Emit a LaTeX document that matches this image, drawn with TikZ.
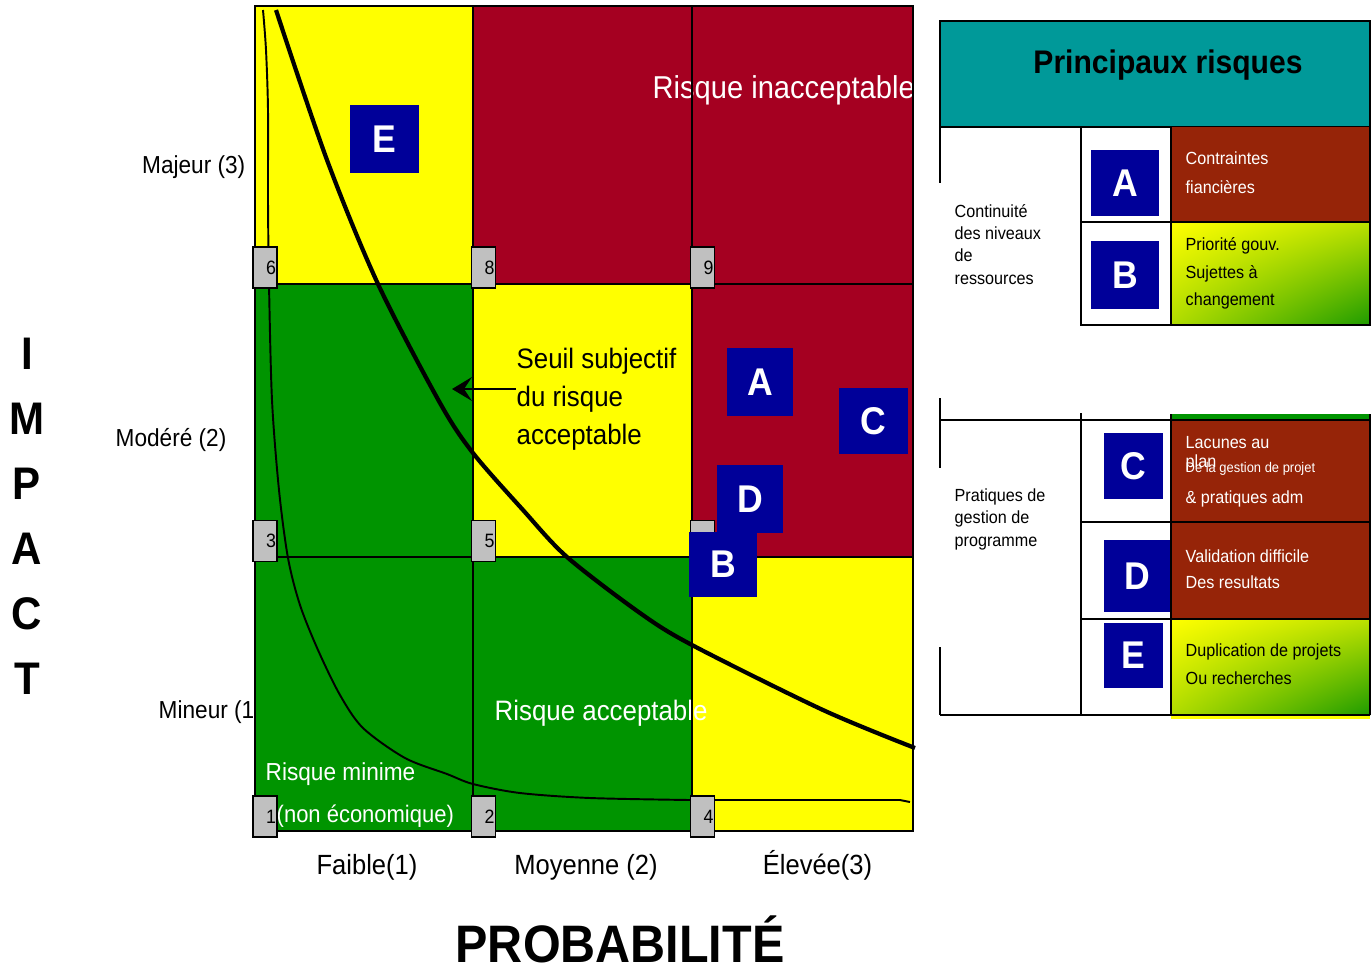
\documentclass[tikz,border=0pt]{standalone}
\usepackage{fontspec}
\setmainfont{Liberation Sans}[FakeStretch=0.92]
\usetikzlibrary{arrows.meta,positioning,shadings}

\definecolor{riskred}{HTML}{A50021}
\definecolor{riskgreen}{HTML}{009400}
\definecolor{riskyellow}{HTML}{FFFF00}
\definecolor{riskblue}{HTML}{000099}
\definecolor{numgray}{HTML}{C0C0C0}
\definecolor{cellbrown}{HTML}{962408}
\definecolor{headteal}{HTML}{009999}
\definecolor{gradgreen}{HTML}{1E9B00}

\begin{document}
\begin{tikzpicture}[x=0.1mm, y=-0.1mm,
  numbox/.style={draw, fill=numgray, line width=0.4pt, text width=2.2mm, align=right,
    inner sep=0.1mm, minimum height=4.1mm, font=\fontsize{5.5pt}{6pt}\selectfont},
  letterbox/.style={fill=riskblue, text=white, inner sep=0, font=\bfseries\fontsize{11pt}{12pt}\selectfont},
  scalelabel/.style={inner sep=0, font=\fontsize{7pt}{8pt}\selectfont},
  problabel/.style={inner sep=0, font=\fontsize{7.9pt}{9pt}\selectfont},
  impactletter/.style={inner sep=0, font=\bfseries\fontsize{13pt}{14pt}\selectfont},
  zonelabel/.style={inner sep=0, text=white, anchor=base west},
  celltext/.style={inner sep=0, align=left, anchor=north west},
  gridline/.style={line width=0.55pt},
  tabline/.style={line width=0.7pt},
  halfshade/.style={upper left=riskyellow, lower right=gradgreen,
    upper right=riskyellow!70!gradgreen, lower left=riskyellow!65!gradgreen}]

\useasboundingbox (0,0) rectangle (1372,971);

% Impact scale (the matrix covers the end of the last one)
\node[scalelabel, anchor=base east] (majeur) at (246,173) {Majeur (3)};
\node[scalelabel, anchor=base west] (modere) at (115,446) {Modéré (2)};
\node[scalelabel, anchor=base west] (mineur) at (158,718) {Mineur (1)};

% Matrix cells
\fill[riskyellow] (255,6) rectangle (473,284);
\fill[riskred] (473,6) rectangle (913,284);
\fill[riskgreen] (255,284) rectangle (473,831);
\fill[riskyellow] (473,284) rectangle (692,557);
\fill[riskred] (692,284) rectangle (913,557);
\fill[riskgreen] (473,557) rectangle (692,831);
\fill[riskyellow] (692,557) rectangle (913,831);

% Zone labels
\node[zonelabel, font=\fontsize{9pt}{10pt}\selectfont] (inacceptable) at (652,98) {Risque inacceptable};
\node[zonelabel, font=\fontsize{8pt}{9pt}\selectfont] (acceptable) at (494,720) {Risque acceptable};
\node[zonelabel, font=\fontsize{7pt}{8pt}\selectfont] (minime) at (265,780) {Risque minime};
\node[zonelabel, font=\fontsize{6.8pt}{8pt}\selectfont] (noneco) at (276,822) {(non économique)};

% Grid
\draw[gridline] (473,6) -- (473,831) (692,6) -- (692,831)
  (255,284) -- (913,284) (255,557) -- (913,557);
\draw[gridline] (255,6) rectangle (913,831);

% Minimum risk curve
\draw[line width=0.55pt] plot[smooth, tension=0.5] coordinates {(263,10) (266,50) (268,110) (268,200)
  (269,284) (272,400) (279,490) (288,558) (300,605) (318,650) (340,695) (363,728) (405,758)
  (447,774) (473,784) (520,793) (590,798) (690,800)} -- (900,800) -- (910,802);

% Acceptable risk threshold
\draw[line width=1.2pt] plot[smooth] coordinates {(276,10) (327,160) (378,284) (440,403) (473,453)
  (523,510) (567,557) (640,613) (692,645) (823,710) (915,748)};

% Corner numbers
\node[numbox] (n6) at (265,267.5) {6};
\node[numbox] (n8) at (483.5,267.5) {8};
\node[numbox] (n9) at (702.5,267.5) {9};
\node[numbox] (n3) at (265,541) {3};
\node[numbox] (n5) at (483.5,541) {5};
\node[numbox] (n7) at (702.5,541) {};
\node[numbox] (n1) at (265,816.5) {1};
\node[numbox] (n2) at (483.5,816.5) {2};
\node[numbox] (n4) at (702.5,816.5) {4};

% Risks in the matrix
\node[letterbox, minimum width=6.9mm, minimum height=6.8mm] (riskE) at (384.5,139) {E};
\node[letterbox, minimum width=6.6mm, minimum height=6.8mm] (riskA) at (760,382) {A};
\node[letterbox, minimum width=6.9mm, minimum height=6.6mm] (riskC) at (873.5,421) {C};
\node[letterbox, minimum width=6.6mm, minimum height=6.8mm] (riskD) at (750,499) {D};
\node[letterbox, minimum width=6.8mm, minimum height=6.5mm] (riskB) at (723,564.5) {B};

% Threshold label
\node[celltext, font=\fontsize{8pt}{10.8pt}\selectfont] (seuil) at (516,347) {Seuil subjectif\\du risque\\acceptable};
\coordinate (seuiltip) at (452,389);
\draw[line width=0.45pt, -{Stealth[length=2mm, width=2.4mm, inset=0.8mm]}] (seuil.west |- seuiltip) -- (seuiltip);

% Probability scale
\node[problabel, anchor=base] (faible) at (367,874) {Faible(1)};
\node[problabel, anchor=base] (moyenne) at (586,874) {Moyenne (2)};
\node[problabel, anchor=base] (elevee) at (817.5,874) {Élevée(3)};
\node[inner sep=0, anchor=base, font=\bfseries\fontsize{15pt}{16pt}\selectfont] (probabilite) at (620,962) {PROBABILITÉ};

% Impact axis
\foreach \letter [count=\i from 0] in {I,M,P,A,C,T}
  \node[impactletter] (impact\i) at (27,354+65*\i) {\letter};

% Principal risks panel
\draw[tabline, fill=headteal] (940,21) rectangle (1370,127);
\node[inner sep=0, anchor=base, font=\bfseries\fontsize{9.3pt}{10pt}\selectfont] (title) at (1168,73) {Principaux risques};

\fill[cellbrown] (1171,127) rectangle (1370,222);
\shade[halfshade] (1171,222) rectangle (1370,325);
\fill[riskgreen] (1171,414) rectangle (1370,420);
\fill[cellbrown] (1171,420) rectangle (1370,619);
\shade[halfshade] (1171,619) rectangle (1370,715);
\fill[riskyellow] (1171,715) rectangle (1370,719);

\node[letterbox, minimum width=6.8mm, minimum height=6.6mm] (listA) at (1125,183) {A};
\node[letterbox, minimum width=6.8mm, minimum height=6.8mm] (listB) at (1125,275) {B};
\node[letterbox, minimum width=5.9mm, minimum height=6.6mm] (listC) at (1133.5,466) {C};
\node[letterbox, minimum width=6.7mm, minimum height=7.2mm] (listD) at (1137.5,576) {D};
\node[letterbox, minimum width=5.9mm, minimum height=6.5mm] (listE) at (1133.5,655.5) {E};

% Table rules
\draw[tabline] (940,127) -- (940,183);
\draw[tabline] (1081,127) -- (1081,325) -- (1370,325) -- (1370,127);
\draw[tabline] (1171,127) -- (1171,325) (1081,222) -- (1370,222);
\draw[tabline] (940,398) -- (940,468) (940,647) -- (940,715);
\draw[tabline] (940,420) -- (1370,420) (940,715) -- (1370,715);
\draw[tabline] (1081,413) -- (1081,715) (1171,414) -- (1171,715) (1370,414) -- (1370,715);
\draw[tabline] (1081,522) -- (1370,522) (1081,619) -- (1370,619);

% Risk families
\node[celltext, font=\fontsize{5pt}{6.3pt}\selectfont] (continuite) at (954,204) {Continuité\\des niveaux\\de\\ressources};
\node[celltext, font=\fontsize{5pt}{6.4pt}\selectfont] (pratiques) at (954,488) {Pratiques de\\gestion de\\programme};

% Risk descriptions
\node[celltext, text=white, font=\fontsize{5pt}{8.25pt}\selectfont] (descA) at (1185,151) {Contraintes\\fiancières};
\node[celltext, font=\fontsize{5pt}{7.8pt}\selectfont] (descB) at (1185,237) {Priorité gouv.\\Sujettes à\\changement};
\node[zonelabel, font=\fontsize{5pt}{6pt}\selectfont] (descC1) at (1185,448) {Lacunes au};
\node[zonelabel, font=\fontsize{5pt}{6pt}\selectfont] (descC2) at (1185,467) {plan};
\node[zonelabel, font=\fontsize{4pt}{5pt}\selectfont] (descC3) at (1185,472) {De la gestion de projet};
\node[zonelabel, font=\fontsize{5pt}{6pt}\selectfont] (descC4) at (1185,503) {\& pratiques adm};
\node[celltext, text=white, font=\fontsize{5pt}{7.4pt}\selectfont] (descD) at (1185,549) {Validation difficile\\Des resultats};
\node[celltext, font=\fontsize{5pt}{8pt}\selectfont] (descE) at (1185,643) {Duplication de projets\\Ou recherches};
\end{tikzpicture}
\end{document}
